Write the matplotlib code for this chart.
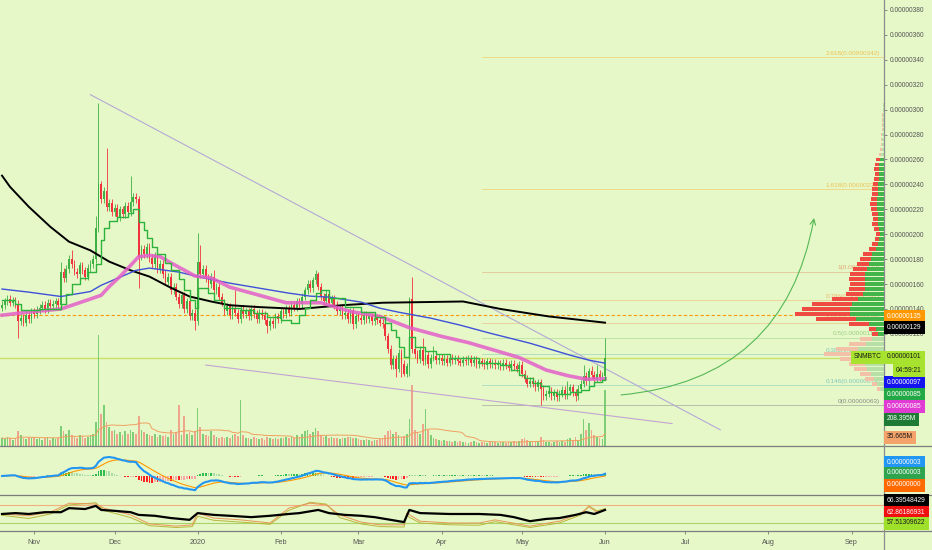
import numpy as np
import pandas as pd
import matplotlib
matplotlib.use('Agg')
import matplotlib.pyplot as plt
import matplotlib.dates as mdates
from matplotlib.lines import Line2D

plt.rcParams['font.family'] = ['Liberation Sans', 'DejaVu Sans']

BG = '#e6f8c8'
UP = '#3cb043'
DN = '#f0323c'

# daily candles, prices in satoshi (1e-8 BTC)
days = pd.date_range('2019-10-20', '2020-06-01', freq='D')

close = [143, 146, 148, 145, 147, 144,
         130,
         133, 129, 135, 132, 138, 136,
         139, 141, 143, 140, 145, 142, 144, 146, 143,
         170,
         165, 172, 180, 176, 170, 168, 175, 171, 166, 173, 176, 180,
         205, 240, 228, 235, 222,
         225, 218, 221, 214, 220, 216, 223, 218, 226, 230,
         228, 182,
         188, 184, 190, 181, 176, 183, 172, 176, 168,
         162, 166, 155, 158, 150, 144, 151, 140, 146, 134, 137, 130,
         178, 168,
         172, 165, 160, 166, 155, 158, 150,
         145, 138, 142, 135, 140, 137, 132, 139, 136,
         138, 134, 140, 136, 132, 137, 135, 131, 126, 130, 128, 134, 132, 138,
         136, 140, 137, 143, 141, 146, 144, 150,
         155, 160, 157, 163, 168, 158,
         150, 146, 152, 145, 148,
         143, 138, 141, 135, 137,
         132, 138, 128, 134,
         133, 131, 135, 132, 134, 130, 133, 131, 129, 128,
         118, 108, 95,
         100, 92, 105, 96, 88, 94,
         148, 108,
         104, 100, 107, 98, 103, 96, 101,
         102, 99, 101, 98, 100, 97, 101, 99, 100, 98, 97, 99, 98, 100, 97,
         99, 96, 98, 97, 95, 98, 96, 97, 95, 96, 94, 97, 95, 93, 96,
         94, 92, 95, 88, 84, 80, 82,
         80, 77, 81, 76, 70, 72,
         74, 70, 73, 69, 72, 75, 71,
         74, 77, 73, 70, 76,
         80, 86, 82, 90, 87,
         84, 88, 85, 86,
         101]

volume = [30, 25, 35, 28, 22, 30, 55, 40, 30, 26, 35, 28, 32,
          25, 30, 22, 28, 35, 24, 30, 26, 28, 75,
          55, 45, 60, 40, 35, 30, 42, 38, 30, 35, 40, 45,
          90, 412, 120, 150, 90,
          70, 55, 60, 45, 50, 40, 55, 45, 60, 50, 45,
          110,
          60, 50, 45, 40, 38, 45, 35, 40, 36,
          40, 35, 60, 45, 50, 150, 40, 110, 45, 50, 40, 55,
          140, 70,
          45, 40, 38, 55, 42, 35, 30,
          32, 28, 35, 30, 40, 45, 36, 170, 40,
          30, 28, 25, 32, 30, 26, 28, 24, 35, 30, 26, 28, 25, 30,
          28, 32, 30, 35, 30, 40, 35, 45,
          55, 60, 45, 50, 65, 55,
          40, 35, 38, 30, 32, 28, 30, 26, 28, 30, 32, 35, 30, 28,
          25, 22, 24, 26, 22, 20, 24, 22, 25, 28,
          40, 55, 60, 45, 50, 40, 35, 38, 45,
          100, 226,
          60, 50, 45, 80, 137, 60, 40,
          30, 25, 22, 20, 24, 18, 20, 16, 18, 15, 20, 14, 16, 12, 15,
          18, 14, 12, 16, 14, 12, 15, 13, 14, 12, 16, 14, 12, 15, 13,
          18, 15, 20, 25, 30, 22, 18, 15, 20, 18, 35, 22, 16,
          14, 12, 15, 18, 14, 20, 16, 25, 30, 18, 35, 22,
          45, 100, 60, 85, 60, 40, 35, 30, 25,
          208]

first_open = 141
WICK = 3
hi_spike = {22: 178, 26: 187, 35: 215, 36: 305, 39: 269, 48: 247, 73: 201,
            74: 191, 79: 171, 87: 155, 118: 170, 152: 150, 153: 166, 157: 117,
            161: 110, 211: 82, 217: 95, 220: 94, 222: 95, 225: 117}
lo_spike = {6: 117, 51: 157, 72: 123, 99: 121, 131: 124, 147: 85, 149: 85,
            150: 86, 152: 86, 201: 63, 214: 66, 225: 84}

# moving averages (day index, price)
black_idx = [0, 3, 10, 18, 25, 33, 40, 48, 55, 63, 70, 78, 85, 96, 111, 127, 142, 172, 186, 204, 225]
black_val = [247, 238, 222, 206, 194, 187, 178, 171, 166, 157, 150, 146, 143, 141.5, 140, 143, 145, 146, 140, 134, 129]

blue_idx = [0, 10, 22, 33, 37, 44, 50, 55, 66, 74, 85, 96, 107, 115, 122, 134, 141, 148, 160, 171, 182, 197, 212, 219, 225]
blue_val = [156, 153.5, 150, 154, 159, 165.5, 171, 172.8, 169.6, 165.5, 160.7, 156.7, 152.7, 150.3, 149.5, 145.5,
            140.6, 137.4, 132.6, 127, 120.6, 112.5, 102.9, 98.9, 96.5]

pink_idx = [0, 10, 22, 33, 37, 40, 44, 48, 51, 55, 59, 63, 72, 78, 85, 96, 106, 111, 119, 130, 141, 152, 164,
            174, 193, 203, 211, 218, 225]
pink_val = [135, 137.5, 140, 148, 151, 158, 166, 175, 182, 183, 182, 177, 166.5, 165, 157.5, 151, 145, 145, 145,
            138, 134, 125, 118, 113, 101, 91, 86.5, 83.6, 84]

step_idx = [0, 5, 7, 14, 22, 24, 26, 29, 32, 35, 37, 38, 40, 43, 47, 49, 51, 53, 54, 56, 58, 61, 63, 66, 68, 70,
            72, 73, 77, 79, 83, 89, 94, 99, 104, 108, 111, 113, 115, 117, 119, 122, 128, 134, 139, 143, 145, 147,
            148, 150, 152, 154, 158, 162, 167, 178, 186, 190, 193, 195, 198, 201, 204, 207, 212, 216, 219, 221,
            224, 225]
step_val = [147, 144, 139, 140, 144, 152, 160, 165, 170, 176, 195, 205, 211, 214, 217, 220, 210, 203, 197, 190,
            184, 177, 171, 164, 155, 147, 141, 157, 153, 147, 141, 139, 136.5, 133.5, 131, 128.6, 135, 141, 147,
            152.7, 155, 149, 141.4, 137.4, 133.4, 128.6, 123, 117.4, 109.3, 101.3, 117.4, 109.3, 106, 103.7, 100.5,
            96.5, 95, 91, 87, 84.4, 80.4, 78, 73.2, 71.6, 73.2, 74.8, 78, 81.2, 83, 85]

# fib extension drawn from mid April
fib_levels = [0, 0.146, 0.382, 0.5, 0.618, 0.786, 1, 1.618, 2.618]
fib_prices = [63, 79, 104, 117, 129, 147, 170, 236, 342]
fib_colors = ['#8a8a8a', '#7fc8bd', '#7fc8bd', '#9ccf86', '#e8b070', '#efb36e', '#e3a474', '#f0c050', '#f0c050']

# volume profile (price bin, total, down part)
prof_price = list(range(76, 305, 4))
prof_total = [7, 12, 19, 24, 30, 35, 44, 60, 48, 35,
              24, 12, 15, 35, 68, 89, 82, 72, 52, 38,
              35, 34, 35, 34, 31, 27, 24, 21, 15, 12,
              9, 8, 10, 12, 11, 12, 13, 14, 13, 12,
              12, 11, 10, 9, 10, 9, 8, 5, 4, 3,
              3, 3, 2, 2, 2, 2, 1, 1]
prof_down = [3, 5, 9, 11, 13, 16, 20,
             28, 22, 17, 12, 6, 7,
             20, 40, 55, 48, 40, 26,
             17, 16, 15, 16, 15, 14, 12, 11, 9, 7,
             6, 4, 4, 5, 6, 5, 6, 6, 7, 6, 6, 6, 5, 5, 4, 5, 4, 4,
             2, 2, 1, 1, 1, 1, 1, 1, 1, 0, 0]

# oscillator pane lines
rsi_idx = [0, 5, 10, 16, 22, 25, 31, 35, 37, 42, 48, 51, 57, 63, 70, 73, 79, 85, 93, 100, 107, 111, 118, 122,
           128, 134, 139, 145, 150, 152, 156, 167, 178, 186, 191, 197, 203, 208, 214, 218, 221, 225]
rsi_val = [50, 52, 50, 54, 54, 63, 61, 68, 59, 57, 54, 48, 46, 41, 37, 52, 48, 46, 43, 46, 50, 52, 59, 52,
           48, 46, 43, 37, 32, 59, 52, 50, 50, 48, 43, 34, 39, 41, 48, 54, 50, 59]
osc_idx = [0, 10, 18, 25, 35, 38, 48, 55, 65, 71, 73, 79, 89, 100, 107, 115, 121, 126, 134, 141, 150, 151, 156,
           167, 178, 184, 197, 208, 216, 219, 222, 225]
osc_a = [50, 46, 54, 74, 72, 63, 48, 28, 23, 26, 52, 41, 37, 30, 63, 74, 70, 48, 32, 26, 26, 52, 34, 30, 30, 37,
         23, 34, 52, 66, 54, 59]
osc_b = [47, 40, 50, 70, 75, 58, 42, 24, 20, 22, 45, 36, 32, 27, 58, 76, 72, 42, 28, 22, 21, 46, 30, 26, 25, 33,
         20, 30, 48, 68, 57, 62]

month_ticks = ['2019-11-01', '2019-12-01', '2020-01-01', '2020-02-01', '2020-03-01', '2020-04-01',
               '2020-05-01', '2020-06-01', '2020-07-01', '2020-08-01', '2020-09-01']
month_labels = ['Nov', 'Dec', '2020', 'Feb', 'Mar', 'Apr', 'May', 'Jun', 'Jul', 'Aug', 'Sep']
price_ticks = list(range(120, 381, 20))

tags = [(316.5, '0.00000135', '#ff9800', 'white'),
        (327.5, '0.00000129', '#000000', 'white'),
        (357, '0.00000101', '#a6e22e', '#1a1a1a'),
        (382, '0.00000097', '#1414ee', 'white'),
        (394, '0.00000085', '#22a845', 'white'),
        (406, '0.00000085', '#e03cd4', 'white'),
        (419, '208.395M', '#1e7b34', 'white'),
        (437, '35.665M', '#f4a36a', '#1a1a1a'),
        (462, '0.00000003', '#2196f3', 'white'),
        (473, '0.00000003', '#2ea44f', 'white'),
        (485, '0.00000000', '#ff6a00', 'white'),
        (500, '66.39548429', '#000000', 'white'),
        (512, '62.86186931', '#f01010', 'white'),
        (523, '57.51309622', '#9ee02a', '#1a1a1a')]


def fx(px):
    return px / 932


def fy(py):
    return 1 - py / 550


def dnum(s):
    return mdates.date2num(pd.Timestamp(s).to_pydatetime())


xd = mdates.date2num(days.to_pydatetime())
c = np.array(close, float)
o = np.r_[first_open, c[:-1]]
h = np.maximum(o, c) + WICK
l = np.minimum(o, c) - WICK
for k, v in hi_spike.items():
    h[k] = v
for k, v in lo_spike.items():
    l[k] = v
up = c >= o
ccol = np.where(up, UP, DN)

fig = plt.figure(figsize=(9.32, 5.5), dpi=100, facecolor=BG)
ax = fig.add_axes([0, fy(446), fx(884), 446 / 550])
ax_m = fig.add_axes([0, fy(495), fx(884), 49 / 550], sharex=ax)
ax_r = fig.add_axes([0, fy(531), fx(884), 36 / 550], sharex=ax)
for a in (ax, ax_m, ax_r):
    a.set_facecolor(BG)
    for sp in a.spines.values():
        sp.set_visible(False)

# volume at the bottom of the main pane
axv = ax.twinx()
axv.set_ylim(0, 1650)
axv.axis('off')
vcol = np.where(up, '#5cc05c', '#f08a78')
axv.bar(xd, volume, width=0.62, color=vcol, alpha=0.75, linewidth=0)
vma = pd.Series(volume, dtype=float).rolling(20, min_periods=1).mean()
axv.plot(xd, vma, color='#f0a060', lw=0.7)

# candles
ax.vlines(xd, l, h, colors=ccol, lw=0.6, zorder=3)
ax.bar(xd, np.maximum(np.abs(c - o), 0.8), bottom=np.minimum(o, c), width=0.62,
       color=ccol, linewidth=0, zorder=3)

ax.plot(xd[black_idx], black_val, color='black', lw=1.4, zorder=4)
ax.plot(xd[blue_idx], blue_val, color='#3f51d8', lw=1.0, zorder=4)
ax.plot(xd[pink_idx], pink_val, color='#e35fc8', lw=2.6, alpha=0.85, zorder=4)
ax.plot(xd[step_idx], step_val, color='#2cb33c', lw=1.0, drawstyle='steps-post', zorder=5)

xlo = xd[0] - 0.75
xhi = xd[0] + 329.1
ax.axhline(135, color='#ff9800', lw=0.8, ls=(0, (3, 2)), zorder=2)
ax.axhline(101, color='#c8e26a', lw=1.0, zorder=2)

# trend lines and arrow
ax.plot([dnum('2019-11-22'), dnum('2020-07-14')], [312, 43], color='#b3a9d6', lw=0.8, zorder=2)
ax.plot([dnum('2020-01-04'), dnum('2020-06-26')], [95, 48], color='#c3a3d3', lw=0.8, zorder=2)
ax.annotate('', xy=(dnum('2020-08-18'), 213), xytext=(dnum('2020-06-07'), 71),
            arrowprops=dict(arrowstyle='->', color='#55b855', lw=0.8,
                            connectionstyle='arc3,rad=0.38', shrinkA=0, shrinkB=0))

# fib levels
fs = dnum('2020-04-16')
for lv, pr, col in zip(fib_levels, fib_prices, fib_colors):
    ax.plot([fs, xhi], [pr, pr], color=col, lw=0.6, alpha=0.6, zorder=1)
    ax.text(xhi - 1.5, pr + 1, f'{lv:g}({pr * 1e-8:.8f})', color=col, fontsize=4.6,
            ha='right', va='bottom', zorder=1)

# volume profile on the right
axp = ax.twiny()
axp.set_xlim(884, 0)
axp.axis('off')
pp = np.array(prof_price, float)
tot = np.array(prof_total, float)
pdn = np.array(prof_down, float)
pup = tot - pdn
inva = (pp >= 118) & (pp <= 262)
gcol = np.where(inva, '#43b54a', '#b7e0a6')
rcol = np.where(inva, '#ef4b43', '#f3c0a8')
axp.barh(pp, pup, height=3.1, color=gcol, linewidth=0)
axp.barh(pp, pdn, left=pup, height=3.1, color=rcol, linewidth=0)

ax.set_xlim(xlo, xhi)
ax.set_ylim(30, 388)
ax.yaxis.tick_right()
ax.set_yticks(price_ticks)
ax.yaxis.set_major_formatter(plt.FuncFormatter(lambda v, p: f'{v * 1e-8:.8f}'))
ax.tick_params(axis='y', direction='out', length=2.5, width=0.6, color='#777777', pad=1.5,
               labelsize=4.8, labelcolor='#555555')
ax.tick_params(axis='x', bottom=False, labelbottom=False)

# MACD pane
cs = pd.Series(c, index=days)
macd = cs.ewm(span=12, adjust=False).mean() - cs.ewm(span=26, adjust=False).mean()
sig = macd.ewm(span=9, adjust=False).mean()
hist = macd - sig
dh = hist.diff().fillna(0)
hcol = np.where(hist >= 0, np.where(dh >= 0, '#2dbd4e', '#a8dba8'),
                np.where(dh <= 0, '#ff2020', '#f7a8a8'))
ax_m.bar(xd, hist.values, width=0.62, color=hcol, linewidth=0)
ax_m.plot(xd, sig.values, color='#ff9800', lw=0.8)
ax_m.plot(xd, macd.values, color='#2196f3', lw=1.5)
peak = max(macd.max(), -macd.min() * 19 / 15)
ax_m.set_ylim(-peak, peak * 30 / 19)
ax_m.set_yticks([])
ax_m.tick_params(axis='x', bottom=False, labelbottom=False)

# oscillator pane
ax_r.axhline(70, color='#f2b07f', lw=0.8)
ax_r.axhline(30, color='#a9d36a', lw=0.8)
ax_r.plot(xd[osc_idx], osc_b, color='#b7b83a', lw=0.7)
ax_r.plot(xd[osc_idx], osc_a, color='#e8965a', lw=0.7)
ax_r.plot(xd[rsi_idx], rsi_val, color='black', lw=1.6)
ax_r.set_ylim(12.2, 92.2)
ax_r.set_yticks([])
ax_r.set_xticks([dnum(m) for m in month_ticks])
ax_r.set_xticklabels(month_labels)
ax_r.tick_params(axis='x', length=2, width=0.6, color='#777777', pad=4, labelsize=5.2,
                 labelcolor='#555555')

# pane separators and price axis line
for py in (446, 495, 531):
    fig.add_artist(Line2D([0, 1], [fy(py), fy(py)], color='#7d7d7d', lw=0.9))
fig.add_artist(Line2D([fx(884), fx(884)], [0, 1], color='#8c8c8c', lw=0.9))

# price tags on the right
for py, txt, fc, tc in tags:
    fig.text(fx(887), fy(py), txt, fontsize=4.8, color=tc, ha='left', va='center',
             bbox=dict(boxstyle='square,pad=0.45', fc=fc, ec='none'))
fig.text(fx(882), fy(357), 'SNMBTC', fontsize=4.8, color='#1a1a1a', ha='right', va='center',
         bbox=dict(boxstyle='square,pad=0.45', fc='#a6e22e', ec='none'))
fig.text(fx(896), fy(370), '04:59:21', fontsize=4.8, color='#1a1a1a', ha='left', va='center',
         bbox=dict(boxstyle='square,pad=0.45', fc='#a6e22e', ec='none'))

fig.savefig('out.png', dpi=100, facecolor=BG)
